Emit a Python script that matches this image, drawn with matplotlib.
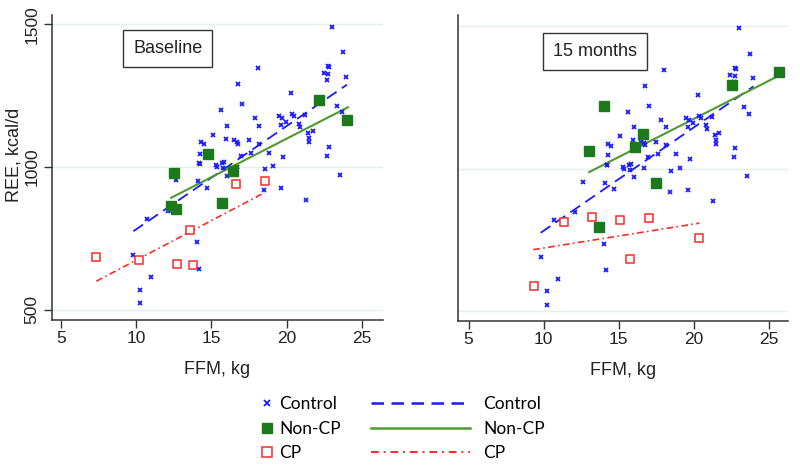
import matplotlib
matplotlib.use("Agg")
import matplotlib.pyplot as plt
from matplotlib.lines import Line2D

plt.rcParams['font.family'] = ['Liberation Sans', 'DejaVu Sans']

# control children (same in both panels)
ctrl_ffm = [23.0, 23.74, 18.06, 22.74, 22.8, 22.45, 22.76, 22.67, 23.96, 16.77, 20.3, 17.06, 23.34,
            23.67, 15.6, 17.86, 19.52, 19.68, 20.37, 20.5, 21.23, 19.96, 19.63, 20.85, 20.9, 16.04,
            18.15, 21.72, 21.43, 21.47, 21.5, 15.11, 15.99, 16.5, 16.68, 16.75, 17.48, 14.31, 14.47,
            18.15, 17.62, 16.97, 18.81, 14.27, 14.2, 14.24, 15.33, 15.37, 15.69, 15.86, 15.75, 16.68,
            19.08, 19.75, 18.53, 22.69, 22.78, 23.56, 16.02, 12.65, 14.09, 14.73, 18.46, 19.61, 21.27,
            12.1, 10.7, 14.02, 9.81, 14.18, 10.99, 10.25, 10.23]
ctrl_ree = [1491, 1401, 1346, 1354, 1350, 1329, 1324, 1303, 1316, 1289, 1258, 1220, 1215,
            1191, 1199, 1172, 1177, 1170, 1184, 1177, 1182, 1159, 1147, 1151, 1139, 1144,
            1145, 1126, 1118, 1101, 1087, 1113, 1099, 1094, 1089, 1082, 1094, 1087, 1080,
            1081, 1050, 1039, 1050, 1047, 1014, 1012, 1006, 1000, 1014, 1016, 995, 1001,
            1002, 1034, 992, 1040, 1071, 973, 970, 954, 950, 927, 919, 926, 885,
            847, 819, 736, 692, 644, 613, 570, 522]

# baseline
noncp_ffm_0 = [22.12, 24.02, 14.78, 12.49, 16.44, 15.69, 12.34, 12.65]
noncp_ree_0 = [1233, 1165, 1044, 980, 987, 874, 863, 854]
cp_ffm_0 = [7.35, 10.19, 12.72, 13.76, 13.54, 16.62, 18.57]
cp_ree_0 = [685, 675, 661, 657, 779, 940, 952]

# 15 months
noncp_ffm_15 = [25.67, 22.56, 14.05, 16.62, 16.13, 13.03, 17.5, 13.69]
noncp_ree_15 = [1338, 1292, 1220, 1122, 1076, 1062, 949, 795]
cp_ffm_15 = [9.35, 11.34, 13.23, 15.11, 17.0, 20.37, 15.78]
cp_ree_15 = [589, 814, 830, 821, 827, 758, 683]

# fitted lines (end points)
ctrl_fit_x = [9.81, 24.0]
ctrl_fit_y = [775, 1288]
noncp_fit_x_0 = [12.32, 24.07]
noncp_fit_y_0 = [892, 1209]
cp_fit_x_0 = [7.35, 18.52]
cp_fit_y_0 = [600, 910]
noncp_fit_x_15 = [13.05, 25.67]
noncp_fit_y_15 = [988, 1325]
cp_fit_x_15 = [9.32, 20.4]
cp_fit_y_15 = [716, 809]

BLUE = '#1a1aff'
GREEN = '#1c7a1c'
GREEN_LINE = '#4e9a30'
RED = '#ff2a2a'

fig = plt.figure(figsize=(8, 4.7), dpi=100)
ax1 = fig.add_axes([0.065, 0.3191, 0.41375, 0.6489])
ax2 = fig.add_axes([0.5725, 0.317, 0.4125, 0.651])

panels = [
    (ax1, 'Baseline', noncp_ffm_0, noncp_ree_0, cp_ffm_0, cp_ree_0,
     noncp_fit_x_0, noncp_fit_y_0, cp_fit_x_0, cp_fit_y_0, (4.4, 26.4), (464, 1532), (0.350, 0.890)),
    (ax2, '15 months', noncp_ffm_15, noncp_ree_15, cp_ffm_15, cp_ree_15,
     noncp_fit_x_15, noncp_fit_y_15, cp_fit_x_15, cp_fit_y_15, (4.3, 26.3), (466, 1538), (0.415, 0.881)),
]

for ax, title, nx, ny, cx, cy, nfx, nfy, cfx, cfy, xl, yl, tpos in panels:
    ax.plot(ctrl_ffm, ctrl_ree, 'x', color=BLUE, ms=3.5, mew=1.3, zorder=3)
    ax.plot(ctrl_fit_x, ctrl_fit_y, color=BLUE, lw=1.3, dashes=(6.5, 3.5), zorder=2)
    ax.plot(nfx, nfy, color=GREEN_LINE, lw=1.5, zorder=2)
    ax.plot(cfx, cfy, color=RED, lw=1.2, dashes=(4, 2, 1, 2), zorder=2)
    ax.plot(nx, ny, 's', color=GREEN, ms=6.5, zorder=4)
    ax.plot(cx, cy, 's', mfc='white', mec=RED, mew=1.1, ms=6, zorder=4)

    ax.set_xlim(*xl)
    ax.set_ylim(*yl)
    ax.set_xticks([5, 10, 15, 20, 25])
    ax.set_yticks([500, 1000, 1500])
    ax.grid(axis='y', color='#e4efef', lw=1)
    ax.set_axisbelow(True)
    for s in ['top', 'right']:
        ax.spines[s].set_visible(False)
    for s in ['left', 'bottom']:
        ax.spines[s].set_linewidth(1.1)
        ax.spines[s].set_color('#333333')
    ax.tick_params(axis='x', length=6, width=1, pad=2, labelsize=12.5, colors='#333333', labelcolor='#222222')
    ax.set_xlabel('FFM, kg', fontsize=13, labelpad=11, color='#222222')
    ax.text(tpos[0], tpos[1], title, transform=ax.transAxes, ha='center', va='center',
            fontsize=13, color='#222222',
            bbox=dict(boxstyle='square,pad=0.55', fc='white', ec='#333333', lw=1))

ax1.tick_params(axis='y', length=6, width=1, pad=3, labelsize=12.5, colors='#333333', labelcolor='#222222')
plt.setp(ax1.get_yticklabels(), rotation=90, va='center')
ax1.set_ylabel('REE, kcal/d', fontsize=13, color='#222222')
ax1.yaxis.set_label_coords(-0.09, 0.54)
ax2.tick_params(axis='y', left=False, labelleft=False)

# legends
mk_handles = [
    Line2D([], [], ls='none', marker='x', color=BLUE, ms=5, mew=1.3),
    Line2D([], [], ls='none', marker='s', color=GREEN, ms=7),
    Line2D([], [], ls='none', marker='s', mfc='white', mec=RED, mew=1.1, ms=6.5),
]
fig.legend(mk_handles, ['Control', 'Non-CP', 'CP'], loc='upper left',
           bbox_to_anchor=(0.3115, 0.176), frameon=False, borderpad=0, handlelength=1.0,
           handletextpad=0.25, labelspacing=0.5, prop={'family': 'Lato', 'size': 12.5})

ln_handles = [
    Line2D([], [], color=BLUE, lw=1.8, dashes=(5, 3)),
    Line2D([], [], color=GREEN_LINE, lw=1.8),
    Line2D([], [], color=RED, lw=1.4, dashes=(4, 2.5, 1, 2.5)),
]
fig.legend(ln_handles, ['Control', 'Non-CP', 'CP'], loc='upper left',
           bbox_to_anchor=(0.453, 0.176), frameon=False, borderpad=0, handlelength=5.7,
           handletextpad=0.75, labelspacing=0.5, prop={'family': 'Lato', 'size': 12.5})

fig.savefig('out.png', dpi=100)
